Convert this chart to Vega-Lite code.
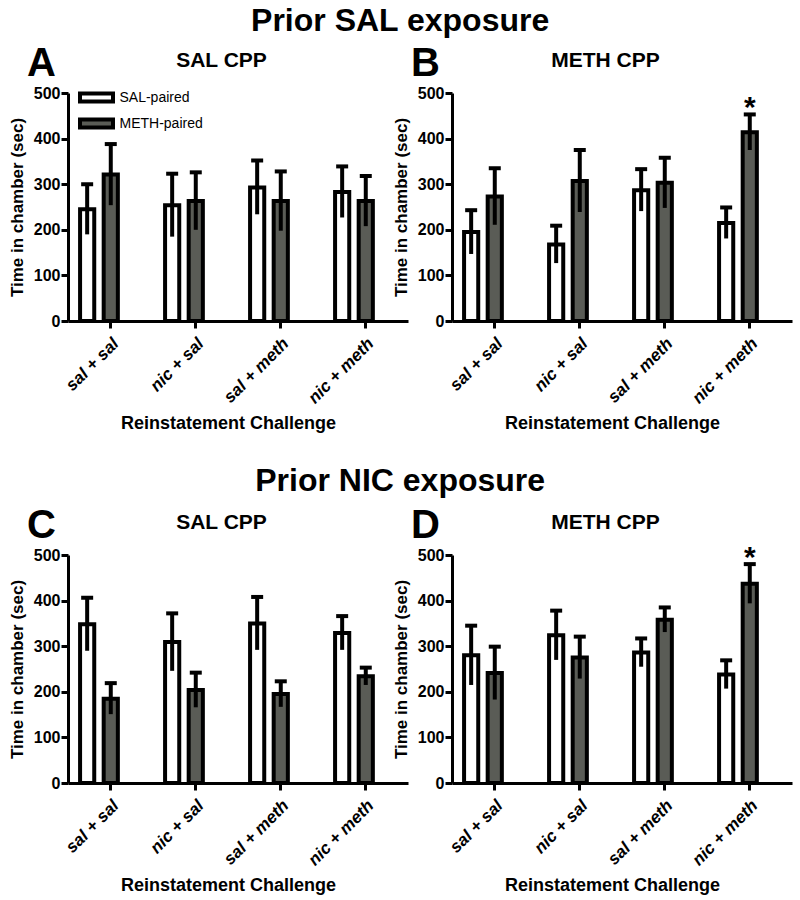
{
  "$schema": "https://vega.github.io/schema/vega-lite/v6.json",
  "background": "white",
  "padding": {"left": 8, "top": 5, "right": 5, "bottom": 5},
  "config": {
    "view": {"stroke": null},
    "font": "Liberation Sans",
    "axis": {"labelColor": "black", "titleColor": "black", "domainColor": "black", "tickColor": "black", "grid": false},
    "axisY": {"title": "Time in chamber (sec)", "values": [0, 100, 200, 300, 400, 500], "domainWidth": 3, "tickWidth": 3, "tickSize": 7, "labelFontSize": 16, "labelFontWeight": "bold", "labelPadding": 1, "titleFontSize": 17, "titleFontWeight": "bold", "titlePadding": 7},
    "title": {"color": "black", "font": "Liberation Sans", "fontWeight": "bold"}
  },
  "datasets": {
    "bars": [
      {"panel": "A", "challenge": "sal + sal", "group": "SAL-paired", "mean": 245, "lo": 190, "hi": 300, "sig": ""},
      {"panel": "A", "challenge": "sal + sal", "group": "METH-paired", "mean": 321, "lo": 254, "hi": 388, "sig": ""},
      {"panel": "A", "challenge": "nic + sal", "group": "SAL-paired", "mean": 254, "lo": 185, "hi": 323, "sig": ""},
      {"panel": "A", "challenge": "nic + sal", "group": "METH-paired", "mean": 263, "lo": 200, "hi": 326, "sig": ""},
      {"panel": "A", "challenge": "sal + meth", "group": "SAL-paired", "mean": 293, "lo": 234, "hi": 352, "sig": ""},
      {"panel": "A", "challenge": "sal + meth", "group": "METH-paired", "mean": 263, "lo": 198, "hi": 328, "sig": ""},
      {"panel": "A", "challenge": "nic + meth", "group": "SAL-paired", "mean": 283, "lo": 227, "hi": 339, "sig": ""},
      {"panel": "A", "challenge": "nic + meth", "group": "METH-paired", "mean": 263, "lo": 208, "hi": 318, "sig": ""},
      {"panel": "B", "challenge": "sal + sal", "group": "SAL-paired", "mean": 195, "lo": 147, "hi": 243, "sig": ""},
      {"panel": "B", "challenge": "sal + sal", "group": "METH-paired", "mean": 273, "lo": 211, "hi": 335, "sig": ""},
      {"panel": "B", "challenge": "nic + sal", "group": "SAL-paired", "mean": 168, "lo": 127, "hi": 209, "sig": ""},
      {"panel": "B", "challenge": "nic + sal", "group": "METH-paired", "mean": 307, "lo": 239, "hi": 375, "sig": ""},
      {"panel": "B", "challenge": "sal + meth", "group": "SAL-paired", "mean": 287, "lo": 241, "hi": 333, "sig": ""},
      {"panel": "B", "challenge": "sal + meth", "group": "METH-paired", "mean": 303, "lo": 248, "hi": 358, "sig": ""},
      {"panel": "B", "challenge": "nic + meth", "group": "SAL-paired", "mean": 215, "lo": 181, "hi": 249, "sig": ""},
      {"panel": "B", "challenge": "nic + meth", "group": "METH-paired", "mean": 414, "lo": 375, "hi": 453, "sig": "*"},
      {"panel": "C", "challenge": "sal + sal", "group": "SAL-paired", "mean": 348, "lo": 290, "hi": 406, "sig": ""},
      {"panel": "C", "challenge": "sal + sal", "group": "METH-paired", "mean": 185, "lo": 151, "hi": 219, "sig": ""},
      {"panel": "C", "challenge": "nic + sal", "group": "SAL-paired", "mean": 309, "lo": 246, "hi": 372, "sig": ""},
      {"panel": "C", "challenge": "nic + sal", "group": "METH-paired", "mean": 204, "lo": 166, "hi": 242, "sig": ""},
      {"panel": "C", "challenge": "sal + meth", "group": "SAL-paired", "mean": 350, "lo": 292, "hi": 408, "sig": ""},
      {"panel": "C", "challenge": "sal + meth", "group": "METH-paired", "mean": 195, "lo": 167, "hi": 223, "sig": ""},
      {"panel": "C", "challenge": "nic + meth", "group": "SAL-paired", "mean": 329, "lo": 292, "hi": 366, "sig": ""},
      {"panel": "C", "challenge": "nic + meth", "group": "METH-paired", "mean": 234, "lo": 215, "hi": 253, "sig": ""},
      {"panel": "D", "challenge": "sal + sal", "group": "SAL-paired", "mean": 280, "lo": 215, "hi": 345, "sig": ""},
      {"panel": "D", "challenge": "sal + sal", "group": "METH-paired", "mean": 241, "lo": 183, "hi": 299, "sig": ""},
      {"panel": "D", "challenge": "nic + sal", "group": "SAL-paired", "mean": 324, "lo": 270, "hi": 378, "sig": ""},
      {"panel": "D", "challenge": "nic + sal", "group": "METH-paired", "mean": 275, "lo": 229, "hi": 321, "sig": ""},
      {"panel": "D", "challenge": "sal + meth", "group": "SAL-paired", "mean": 286, "lo": 255, "hi": 317, "sig": ""},
      {"panel": "D", "challenge": "sal + meth", "group": "METH-paired", "mean": 358, "lo": 331, "hi": 385, "sig": ""},
      {"panel": "D", "challenge": "nic + meth", "group": "SAL-paired", "mean": 238, "lo": 207, "hi": 269, "sig": ""},
      {"panel": "D", "challenge": "nic + meth", "group": "METH-paired", "mean": 437, "lo": 394, "hi": 480, "sig": "*"}
    ]
  },
  "resolve": {"scale": {"fill": "independent"}, "legend": {"fill": "independent"}},
  "spacing": 32,
  "vconcat": [
    {
      "title": {"text": "Prior SAL exposure", "fontSize": 32, "anchor": "middle", "offset": 6},
      "spacing": -16,
      "resolve": {"scale": {"fill": "independent"}, "legend": {"fill": "independent"}},
      "hconcat": [
        {
          "title": {"text": "A", "anchor": "start", "frame": "group", "dx": -41, "dy": 39, "fontSize": 40},
          "width": 340, "height": 228,
          "data": {"name": "bars"},
          "transform": [{"filter": "datum.panel === 'A'"}],
          "resolve": {"axis": {"x": "independent"}},
          "layer": [
            {
              "mark": {"type": "bar", "stroke": "black", "strokeWidth": 4},
              "encoding": {
                "x": {"field": "challenge", "type": "nominal", "sort": ["sal + sal", "nic + sal", "sal + meth", "nic + meth"], "scale": {"paddingInner": 0, "paddingOuter": 0},
                  "axis": {"title": "Reinstatement Challenge", "labelAngle": -45, "labelFontStyle": "italic", "labelFontWeight": "bold", "labelFontSize": 17, "labelPadding": 7, "tickSize": 7, "tickWidth": 3, "domainWidth": 3, "titleFontSize": 18, "titleFontWeight": "bold", "titlePadding": 8, "titleX": 160}},
                "xOffset": {"field": "group", "type": "nominal", "sort": ["SAL-paired", "METH-paired"], "scale": {"paddingInner": 0.4, "paddingOuter": 1.024, "align": 0.2557}},
                "y": {"field": "mean", "type": "quantitative", "title": "Time in chamber (sec)", "scale": {"domain": [0, 500], "nice": false}},
                "fill": {"field": "group", "type": "nominal", "sort": ["SAL-paired", "METH-paired"], "scale": {"domain": ["SAL-paired", "METH-paired"], "range": ["white", "#5a5c56"]},
                  "legend": {"title": null, "orient": "none", "legendX": 15.5, "legendY": -8.5, "symbolType": "M-1.5,-0.36H1.5V0.36H-1.5Z", "symbolSize": 484, "symbolStrokeColor": "black", "symbolStrokeWidth": 4, "labelFontSize": 14, "labelFont": "Liberation Sans", "labelColor": "black", "labelOffset": 10, "rowPadding": 1, "padding": 0,
                    "encode": {"symbols": {"update": {"stroke": {"value": "black"}, "strokeWidth": {"value": 4}}}}}}
              }
            },
            {
              "mark": {"type": "rule", "strokeWidth": 4, "color": "black"},
              "encoding": {
                "x": {"field": "challenge", "type": "nominal", "sort": ["sal + sal", "nic + sal", "sal + meth", "nic + meth"], "scale": {"paddingInner": 0, "paddingOuter": 0},
                  "axis": {"orient": "top", "labels": false, "ticks": false, "domain": false, "title": "SAL CPP", "titleFontSize": 21, "titleFontWeight": "bold", "titleX": 153, "titleY": -27, "titleAlign": "center", "titleBaseline": "alphabetic"}},
                "xOffset": {"field": "group", "type": "nominal", "sort": ["SAL-paired", "METH-paired"], "scale": {"paddingInner": 0.4, "paddingOuter": 1.024, "align": 0.2557}},
                "y": {"field": "lo", "type": "quantitative", "title": "Time in chamber (sec)"},
                "y2": {"field": "hi"}
              }
            },
            {
              "mark": {"type": "tick", "thickness": 4, "size": 12, "color": "black", "opacity": 1},
              "encoding": {
                "x": {"field": "challenge", "type": "nominal", "sort": ["sal + sal", "nic + sal", "sal + meth", "nic + meth"], "axis": null},
                "xOffset": {"field": "group", "type": "nominal", "sort": ["SAL-paired", "METH-paired"], "scale": {"paddingInner": 0.4, "paddingOuter": 1.024, "align": 0.2557}},
                "y": {"field": "hi", "type": "quantitative", "title": "Time in chamber (sec)"}
              }
            }
          ]
        },
        {
          "title": {"text": "B", "anchor": "start", "frame": "group", "dx": -41, "dy": 39, "fontSize": 40},
          "width": 340, "height": 228,
          "data": {"name": "bars"},
          "transform": [{"filter": "datum.panel === 'B'"}],
          "resolve": {"axis": {"x": "independent"}},
          "layer": [
            {
              "mark": {"type": "bar", "stroke": "black", "strokeWidth": 4},
              "encoding": {
                "x": {"field": "challenge", "type": "nominal", "sort": ["sal + sal", "nic + sal", "sal + meth", "nic + meth"], "scale": {"paddingInner": 0, "paddingOuter": 0},
                  "axis": {"title": "Reinstatement Challenge", "labelAngle": -45, "labelFontStyle": "italic", "labelFontWeight": "bold", "labelFontSize": 17, "labelPadding": 7, "tickSize": 7, "tickWidth": 3, "domainWidth": 3, "titleFontSize": 18, "titleFontWeight": "bold", "titlePadding": 8, "titleX": 160}},
                "xOffset": {"field": "group", "type": "nominal", "sort": ["SAL-paired", "METH-paired"], "scale": {"paddingInner": 0.4, "paddingOuter": 1.024, "align": 0.2557}},
                "y": {"field": "mean", "type": "quantitative", "title": "Time in chamber (sec)", "scale": {"domain": [0, 500], "nice": false}},
                "fill": {"field": "group", "type": "nominal", "scale": {"domain": ["SAL-paired", "METH-paired"], "range": ["white", "#5a5c56"]}, "legend": null}
              }
            },
            {
              "mark": {"type": "rule", "strokeWidth": 4, "color": "black"},
              "encoding": {
                "x": {"field": "challenge", "type": "nominal", "sort": ["sal + sal", "nic + sal", "sal + meth", "nic + meth"], "scale": {"paddingInner": 0, "paddingOuter": 0},
                  "axis": {"orient": "top", "labels": false, "ticks": false, "domain": false, "title": "METH CPP", "titleFontSize": 21, "titleFontWeight": "bold", "titleX": 153, "titleY": -27, "titleAlign": "center", "titleBaseline": "alphabetic"}},
                "xOffset": {"field": "group", "type": "nominal", "sort": ["SAL-paired", "METH-paired"], "scale": {"paddingInner": 0.4, "paddingOuter": 1.024, "align": 0.2557}},
                "y": {"field": "lo", "type": "quantitative", "title": "Time in chamber (sec)"},
                "y2": {"field": "hi"}
              }
            },
            {
              "mark": {"type": "tick", "thickness": 4, "size": 12, "color": "black", "opacity": 1},
              "encoding": {
                "x": {"field": "challenge", "type": "nominal", "sort": ["sal + sal", "nic + sal", "sal + meth", "nic + meth"], "axis": null},
                "xOffset": {"field": "group", "type": "nominal", "sort": ["SAL-paired", "METH-paired"], "scale": {"paddingInner": 0.4, "paddingOuter": 1.024, "align": 0.2557}},
                "y": {"field": "hi", "type": "quantitative", "title": "Time in chamber (sec)"}
              }
            },
            {
              "transform": [{"filter": "datum.sig !== ''"}],
              "mark": {"type": "text", "fontSize": 30, "fontWeight": "bold", "baseline": "alphabetic", "dy": 3, "color": "black"},
              "encoding": {
                "x": {"field": "challenge", "type": "nominal", "sort": ["sal + sal", "nic + sal", "sal + meth", "nic + meth"], "axis": null},
                "xOffset": {"field": "group", "type": "nominal", "sort": ["SAL-paired", "METH-paired"], "scale": {"paddingInner": 0.4, "paddingOuter": 1.024, "align": 0.2557}},
                "y": {"field": "hi", "type": "quantitative", "title": "Time in chamber (sec)"},
                "text": {"field": "sig"}
              }
            }
          ]
        }
      ]
    },
    {
      "title": {"text": "Prior NIC exposure", "fontSize": 32, "anchor": "middle", "offset": 8},
      "spacing": -16,
      "resolve": {"scale": {"fill": "independent"}, "legend": {"fill": "independent"}},
      "hconcat": [
        {
          "title": {"text": "C", "anchor": "start", "frame": "group", "dx": -41, "dy": 39, "fontSize": 40},
          "width": 340, "height": 228,
          "data": {"name": "bars"},
          "transform": [{"filter": "datum.panel === 'C'"}],
          "resolve": {"axis": {"x": "independent"}},
          "layer": [
            {
              "mark": {"type": "bar", "stroke": "black", "strokeWidth": 4},
              "encoding": {
                "x": {"field": "challenge", "type": "nominal", "sort": ["sal + sal", "nic + sal", "sal + meth", "nic + meth"], "scale": {"paddingInner": 0, "paddingOuter": 0},
                  "axis": {"title": "Reinstatement Challenge", "labelAngle": -45, "labelFontStyle": "italic", "labelFontWeight": "bold", "labelFontSize": 17, "labelPadding": 7, "tickSize": 7, "tickWidth": 3, "domainWidth": 3, "titleFontSize": 18, "titleFontWeight": "bold", "titlePadding": 8, "titleX": 160}},
                "xOffset": {"field": "group", "type": "nominal", "sort": ["SAL-paired", "METH-paired"], "scale": {"paddingInner": 0.4, "paddingOuter": 1.024, "align": 0.2557}},
                "y": {"field": "mean", "type": "quantitative", "title": "Time in chamber (sec)", "scale": {"domain": [0, 500], "nice": false}},
                "fill": {"field": "group", "type": "nominal", "scale": {"domain": ["SAL-paired", "METH-paired"], "range": ["white", "#5a5c56"]}, "legend": null}
              }
            },
            {
              "mark": {"type": "rule", "strokeWidth": 4, "color": "black"},
              "encoding": {
                "x": {"field": "challenge", "type": "nominal", "sort": ["sal + sal", "nic + sal", "sal + meth", "nic + meth"], "scale": {"paddingInner": 0, "paddingOuter": 0},
                  "axis": {"orient": "top", "labels": false, "ticks": false, "domain": false, "title": "SAL CPP", "titleFontSize": 21, "titleFontWeight": "bold", "titleX": 153, "titleY": -27, "titleAlign": "center", "titleBaseline": "alphabetic"}},
                "xOffset": {"field": "group", "type": "nominal", "sort": ["SAL-paired", "METH-paired"], "scale": {"paddingInner": 0.4, "paddingOuter": 1.024, "align": 0.2557}},
                "y": {"field": "lo", "type": "quantitative", "title": "Time in chamber (sec)"},
                "y2": {"field": "hi"}
              }
            },
            {
              "mark": {"type": "tick", "thickness": 4, "size": 12, "color": "black", "opacity": 1},
              "encoding": {
                "x": {"field": "challenge", "type": "nominal", "sort": ["sal + sal", "nic + sal", "sal + meth", "nic + meth"], "axis": null},
                "xOffset": {"field": "group", "type": "nominal", "sort": ["SAL-paired", "METH-paired"], "scale": {"paddingInner": 0.4, "paddingOuter": 1.024, "align": 0.2557}},
                "y": {"field": "hi", "type": "quantitative", "title": "Time in chamber (sec)"}
              }
            }
          ]
        },
        {
          "title": {"text": "D", "anchor": "start", "frame": "group", "dx": -41, "dy": 39, "fontSize": 40},
          "width": 340, "height": 228,
          "data": {"name": "bars"},
          "transform": [{"filter": "datum.panel === 'D'"}],
          "resolve": {"axis": {"x": "independent"}},
          "layer": [
            {
              "mark": {"type": "bar", "stroke": "black", "strokeWidth": 4},
              "encoding": {
                "x": {"field": "challenge", "type": "nominal", "sort": ["sal + sal", "nic + sal", "sal + meth", "nic + meth"], "scale": {"paddingInner": 0, "paddingOuter": 0},
                  "axis": {"title": "Reinstatement Challenge", "labelAngle": -45, "labelFontStyle": "italic", "labelFontWeight": "bold", "labelFontSize": 17, "labelPadding": 7, "tickSize": 7, "tickWidth": 3, "domainWidth": 3, "titleFontSize": 18, "titleFontWeight": "bold", "titlePadding": 8, "titleX": 160}},
                "xOffset": {"field": "group", "type": "nominal", "sort": ["SAL-paired", "METH-paired"], "scale": {"paddingInner": 0.4, "paddingOuter": 1.024, "align": 0.2557}},
                "y": {"field": "mean", "type": "quantitative", "title": "Time in chamber (sec)", "scale": {"domain": [0, 500], "nice": false}},
                "fill": {"field": "group", "type": "nominal", "scale": {"domain": ["SAL-paired", "METH-paired"], "range": ["white", "#5a5c56"]}, "legend": null}
              }
            },
            {
              "mark": {"type": "rule", "strokeWidth": 4, "color": "black"},
              "encoding": {
                "x": {"field": "challenge", "type": "nominal", "sort": ["sal + sal", "nic + sal", "sal + meth", "nic + meth"], "scale": {"paddingInner": 0, "paddingOuter": 0},
                  "axis": {"orient": "top", "labels": false, "ticks": false, "domain": false, "title": "METH CPP", "titleFontSize": 21, "titleFontWeight": "bold", "titleX": 153, "titleY": -27, "titleAlign": "center", "titleBaseline": "alphabetic"}},
                "xOffset": {"field": "group", "type": "nominal", "sort": ["SAL-paired", "METH-paired"], "scale": {"paddingInner": 0.4, "paddingOuter": 1.024, "align": 0.2557}},
                "y": {"field": "lo", "type": "quantitative", "title": "Time in chamber (sec)"},
                "y2": {"field": "hi"}
              }
            },
            {
              "mark": {"type": "tick", "thickness": 4, "size": 12, "color": "black", "opacity": 1},
              "encoding": {
                "x": {"field": "challenge", "type": "nominal", "sort": ["sal + sal", "nic + sal", "sal + meth", "nic + meth"], "axis": null},
                "xOffset": {"field": "group", "type": "nominal", "sort": ["SAL-paired", "METH-paired"], "scale": {"paddingInner": 0.4, "paddingOuter": 1.024, "align": 0.2557}},
                "y": {"field": "hi", "type": "quantitative", "title": "Time in chamber (sec)"}
              }
            },
            {
              "transform": [{"filter": "datum.sig !== ''"}],
              "mark": {"type": "text", "fontSize": 30, "fontWeight": "bold", "baseline": "alphabetic", "dy": 3, "color": "black"},
              "encoding": {
                "x": {"field": "challenge", "type": "nominal", "sort": ["sal + sal", "nic + sal", "sal + meth", "nic + meth"], "axis": null},
                "xOffset": {"field": "group", "type": "nominal", "sort": ["SAL-paired", "METH-paired"], "scale": {"paddingInner": 0.4, "paddingOuter": 1.024, "align": 0.2557}},
                "y": {"field": "hi", "type": "quantitative", "title": "Time in chamber (sec)"},
                "text": {"field": "sig"}
              }
            }
          ]
        }
      ]
    }
  ]
}
